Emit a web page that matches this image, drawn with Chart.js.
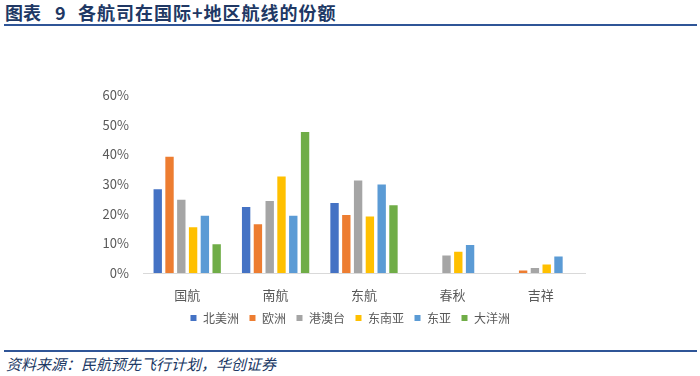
<!DOCTYPE html>
<html>
<head>
<meta charset="utf-8">
<script src="https://cdn.jsdelivr.net/npm/chart.js@4/dist/chart.umd.min.js"></script>
<style>
  body { margin: 0; width: 700px; height: 376px; background: #fff; position: relative; overflow: hidden; font-family: "Noto Sans CJK SC", sans-serif; }
  #title { position: absolute; left: 5px; top: -1px; font-size: 18px; font-weight: bold; color: #203864; white-space: nowrap; }
  #title span { display: inline-block; }
  #topline { position: absolute; left: 4px; top: 24px; width: 693px; height: 2px; background: #2F5597; }
  #botline { position: absolute; left: 4px; top: 350px; width: 693px; height: 2px; background: #2F5597; }
  #source { position: absolute; left: 6px; top: 353px; font-size: 15px; color: #203864; font-style: italic; }
  #wrap { position: absolute; left: 0; top: 30px; width: 700px; height: 304px; }
</style>
</head>
<body>
<div id="title"><span style="width:50px">图表</span><span style="width:23px">9</span><span style="letter-spacing:1px">各航司在国际+地区航线的份额</span></div>
<div id="topline"></div>
<div id="wrap"><canvas id="chart"></canvas></div>
<div id="botline"></div>
<div id="source">资料来源：民航预先飞行计划，华创证券</div>
<script>
const airlines = ["国航", "南航", "东航", "春秋", "吉祥"];
const northAmerica = [28.6, 22.6, 23.9, null, null];
const europe = [39.5, 16.8, 19.9, null, 1.2];
const hkMacauTw = [25.0, 24.6, 31.5, 6.2, 2.0];
const southeastAsia = [15.8, 32.9, 19.4, 7.5, 3.2];
const eastAsia = [19.6, 19.6, 30.2, 9.8, 5.9];
const oceania = [10.0, 47.9, 23.2, null, null];

const series = [
  ["北美洲", northAmerica, "#4472C4"],
  ["欧洲", europe, "#ED7D31"],
  ["港澳台", hkMacauTw, "#A5A5A5"],
  ["东南亚", southeastAsia, "#FFC000"],
  ["东亚", eastAsia, "#5B9BD5"],
  ["大洋洲", oceania, "#70AD47"],
];

const datasets = series.map(([label, data, color]) => ({
  label,
  data,
  backgroundColor: color,
  borderColor: "#ffffff",
  borderWidth: 1,
  categoryPercentage: 0.8,
  barPercentage: 0.88,
  yAxisID: "y",
}));

const font = { family: "'Noto Sans CJK SC', sans-serif", size: 13 };

new Chart(document.getElementById("chart").getContext("2d"), {
  type: "bar",
  data: { labels: airlines, datasets },
  options: {
    responsive: true,
    maintainAspectRatio: false,
    animation: false,
    layout: { padding: { top: 65, right: 0, left: 0, bottom: 0 } },
    plugins: {
      tooltip: { enabled: false },
      legend: {
        position: "bottom",
        labels: { color: "#595959", font: { ...font, size: 12 }, boxWidth: 7, boxHeight: 7, padding: 10 },
      },
    },
    scales: {
      x: {
        grid: { display: false, drawTicks: false },
        border: { color: "#D9D9D9", width: 1 },
        ticks: { color: "#595959", font, padding: 14 },
        afterFit: (s) => { s.height = 29; },
      },
      y: {
        min: 0,
        max: 60,
        grid: { display: false, drawTicks: false },
        border: { display: false },
        ticks: { stepSize: 10, color: "#595959", font, padding: 14, callback: (v) => v + "%" },
        afterFit: (s) => { s.width = 143; },
      },
      // empty right-hand axis only reserves the blank space right of the plot
      spacer: {
        position: "right",
        min: 0,
        max: 60,
        grid: { display: false, drawTicks: false },
        border: { display: false },
        ticks: { display: false },
        afterFit: (s) => { s.width = 115; },
      },
    },
  },
});
</script>
</body>
</html>
